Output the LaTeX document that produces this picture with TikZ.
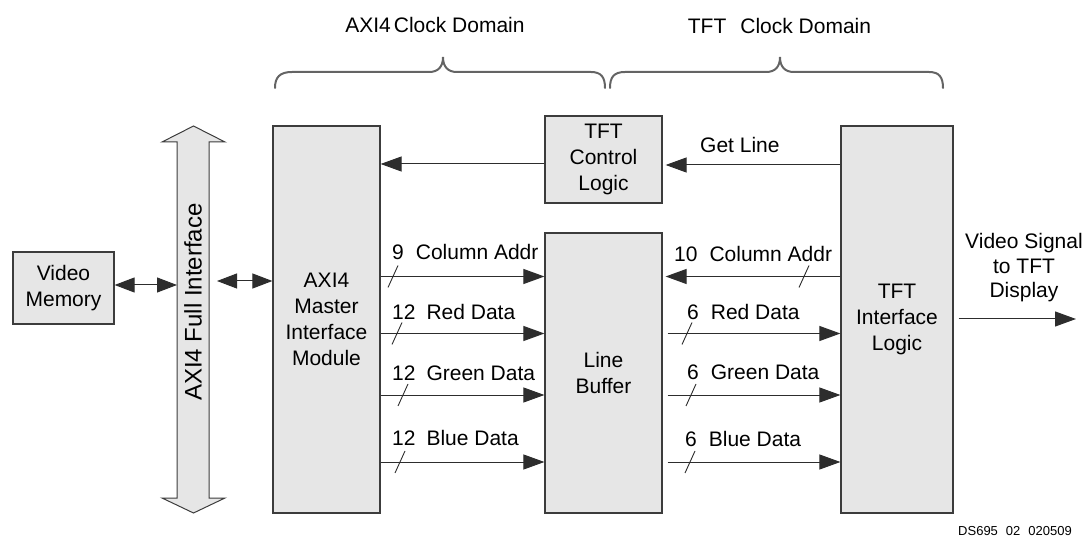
\documentclass[tikz,border=0pt]{standalone}
\usepackage{fontspec}
\setmainfont{Liberation Sans}
\usetikzlibrary{arrows.meta,calc}
\definecolor{boxfill}{RGB}{230,230,230}
\definecolor{boxline}{RGB}{60,60,60}
\definecolor{wire}{RGB}{45,45,45}
\definecolor{bracecol}{RGB}{100,100,100}
\begin{document}
\begin{tikzpicture}[x=1pt,y=-1pt,
  every node/.style={font=\fontsize{21}{26}\selectfont, inner sep=0pt},
  blk/.style={draw=boxline, fill=boxfill, line width=1.2pt, align=center},
  arr/.style={draw=wire, line width=1pt, -{Triangle[length=21pt,width=15pt]}},
  darr/.style={draw=wire, line width=1pt, {Triangle[length=20pt,width=15pt]}-{Triangle[length=20pt,width=15pt]}},
  slash/.style={draw=wire, line width=0.9pt},
  bracestyle/.style={draw=bracecol, line width=2pt, line cap=round},
  lbl/.style={anchor=west}]
\useasboundingbox (0,0) rectangle (1087,537);

% top labels and braces
\node (dom1) at (435,25) {AXI4\hspace{3pt}Clock Domain};
\node (dom2) at (779.5,26) {TFT\hspace{14pt}Clock Domain};
\draw[bracestyle] (275,88) .. controls (275,77) and (280,72) .. (292,72) -- (429,72)
  .. controls (438,72) and (443,67) .. (443,57) .. controls (443,67) and (448,72) .. (457,72)
  -- (591,72) .. controls (601,72) and (605,77) .. (605,88);
\draw[bracestyle] (610,88) .. controls (610,77) and (614,72) .. (625,72) -- (766,72)
  .. controls (775,72) and (780,67) .. (780,57) .. controls (780,67) and (785,72) .. (794,72)
  -- (929,72) .. controls (939,72) and (943,77) .. (943,88);

% blocks
\node[blk, minimum width=101pt, minimum height=72pt] (vm) at (63.5,288) {Video\\Memory};
\node[blk, minimum width=107pt, minimum height=387pt] (master) at (326.5,319.5) {AXI4\\Master\\Interface\\Module};
\node[blk, minimum width=117pt, minimum height=87pt] (ctl) at (603.5,159.5) {TFT\\Control\\Logic};
\node[blk, minimum width=117pt, minimum height=280pt] (lb) at (603.5,373) {Line\\Buffer};
\node[blk, minimum width=112pt, minimum height=387pt] (tftif) at (897,319.5) {TFT\\Interface\\Logic};

% AXI4 bus (double-headed block arrow)
\draw[draw=boxline, fill=boxfill, line width=1pt, line join=miter]
  (177,498) -- (177,142) -- (162,142) -- (193.5,126) -- (225,142) -- (209,142)
  -- (209,498) -- (225,498) -- (193.5,513) -- (162,498) -- cycle;
\node[rotate=90, font=\fontsize{24}{28}\selectfont] (buslbl) at (193,302) {AXI4 Full Interface};
\coordinate (busL) at (177,285);
\coordinate (busR) at (217,281);

% bus connections
\draw[darr] (vm.east |- busL) -- (busL);
\draw[darr] (busR) -- (master.west |- busR);

% control path
\coordinate (rCtl) at (0,164);
\coordinate (rGet) at (0,165);
\draw[arr] (ctl.west |- rCtl) -- (master.east |- rCtl);
\draw[arr, shorten >=3pt] (tftif.west |- rGet) -- (ctl.east |- rGet);
\node[lbl] (getlbl) at (700,145) {Get Line};

% data rows
\coordinate (rCol) at (0,276.5);
\coordinate (rRed) at (0,333.5);
\coordinate (rGrn) at (0,395);
\coordinate (rBlu) at (0,462);

\draw[arr] (master.east |- rCol) -- (lb.west |- rCol);
\draw[arr] (master.east |- rRed) -- (lb.west |- rRed);
\draw[arr] (master.east |- rGrn) -- (lb.west |- rGrn);
\draw[arr] (master.east |- rBlu) -- (lb.west |- rBlu);

\draw[arr, shorten >=3pt] (tftif.west |- rCol) -- (lb.east |- rCol);
\draw[arr, shorten <=5pt] (lb.east |- rRed) -- (tftif.west |- rRed);
\draw[arr, shorten <=5pt] (lb.east |- rGrn) -- (tftif.west |- rGrn);
\draw[arr, shorten <=5pt] (lb.east |- rBlu) -- (tftif.west |- rBlu);

% left labels
\node[lbl] (l1) at (392,252) {9\hspace{12pt}Column Addr};
\node[lbl] (l2) at (392,312) {12\hspace{11pt}Red Data};
\node[lbl] (l3) at (392,373) {12\hspace{11pt}Green Data};
\node[lbl] (l4) at (392,438) {12\hspace{11pt}Blue Data};
% right labels
\node[lbl] (r1) at (674,254) {10\hspace{12pt}Column Addr};
\node[lbl] (r2) at (687,312) {6\hspace{12pt}Red Data};
\node[lbl] (r3) at (687,372) {6\hspace{12pt}Green Data};
\node[lbl] (r4) at (685,439) {6\hspace{12pt}Blue Data};

% bus-width slashes
\coordinate (s1) at (393,276.5);
\coordinate (s2) at (397,333.5);
\coordinate (s3) at (403,395);
\coordinate (s4) at (400,462);
\coordinate (s5) at (804,276.5);
\coordinate (s6) at (687,333.5);
\coordinate (s7) at (691,395);
\coordinate (s8) at (690,462);
\foreach \s in {s1,s2,s3,s4,s5,s6,s7,s8}
  \draw[slash] ([shift={(5,-11)}]\s) -- ([shift={(-5,11)}]\s);

% video output
\coordinate (rVid) at (0,319);
\coordinate (vout) at (1076,319);
\draw[arr, shorten <=5pt] (tftif.east |- rVid) -- (vout);
\node[align=center, font=\fontsize{21}{24.5}\selectfont] (vslbl) at (1024,268) {Video Signal\\to TFT\\Display};

% figure id
\node[anchor=east, font=\fontsize{13}{15}\selectfont] (dsid) at (1072,531) {DS695\hspace{8pt}02\hspace{8pt}020509};
\end{tikzpicture}
\end{document}
